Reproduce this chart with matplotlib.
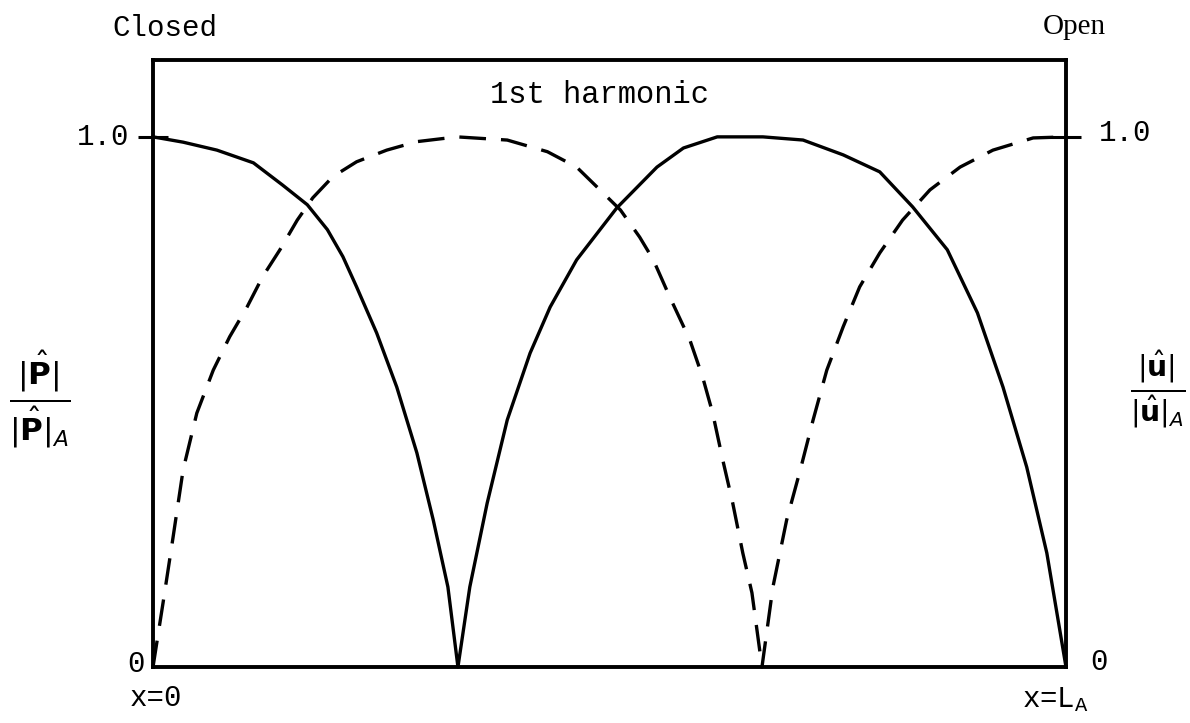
import matplotlib.pyplot as plt

# position along the tube, as a fraction of L_A
x_p = [0, 0.033, 0.070, 0.110, 0.142, 0.169, 0.191, 0.208, 0.223, 0.245,
       0.267, 0.289, 0.307, 0.323, 0.334, 0.347, 0.366, 0.388, 0.413, 0.435,
       0.464, 0.508, 0.552, 0.581, 0.618, 0.668, 0.712, 0.756, 0.796, 0.832,
       0.870, 0.903, 0.931, 0.957, 0.979, 1.0]
# pressure amplitude |p| / |p|_A
p_amp = [1.0, 0.99, 0.975, 0.951, 0.909, 0.872, 0.825, 0.774, 0.717, 0.630,
         0.528, 0.404, 0.277, 0.151, 0.0, 0.151, 0.309, 0.466, 0.592, 0.679,
         0.768, 0.866, 0.943, 0.979, 1.0, 1.0, 0.994, 0.966, 0.934, 0.868,
         0.787, 0.668, 0.528, 0.377, 0.215, 0.0]

x_u = [0, 0.011, 0.022, 0.033, 0.048, 0.066, 0.084, 0.103, 0.120, 0.139,
       0.158, 0.175, 0.197, 0.223, 0.256, 0.289, 0.333, 0.388, 0.432, 0.464,
       0.486, 0.512, 0.533, 0.548, 0.566, 0.588, 0.602, 0.613, 0.624, 0.635,
       0.646, 0.656, 0.667, 0.679, 0.694, 0.709, 0.723, 0.738, 0.756, 0.774,
       0.796, 0.821, 0.851, 0.884, 0.920, 0.964, 1.0]
# velocity amplitude |u| / |u|_A
u_amp = [0, 0.121, 0.245, 0.372, 0.479, 0.560, 0.623, 0.679, 0.736, 0.787,
         0.843, 0.885, 0.925, 0.953, 0.975, 0.991, 1.0, 0.994, 0.972, 0.943,
         0.906, 0.862, 0.811, 0.768, 0.698, 0.617, 0.547, 0.479, 0.391, 0.309,
         0.215, 0.140, 0.0, 0.151, 0.277, 0.372, 0.466, 0.560, 0.642, 0.717,
         0.781, 0.843, 0.900, 0.943, 0.975, 0.998, 1.0]

W, H = 1190, 723
mono = 'Liberation Mono'

fig = plt.figure(figsize=(W / 100, H / 100), dpi=100)
ax = fig.add_axes([153 / W, 1 - 667 / H, (1066 - 153) / W, (667 - 60) / H])

ax.plot(x_p, p_amp, color='black', lw=2.4, solid_joinstyle='round', clip_on=False)
ax.plot(x_u, u_amp, color='black', lw=2.4, dashes=(8, 4.5), clip_on=False)

ax.set_xlim(0, 1)
ax.set_ylim(0, 1.145)
for s in ax.spines.values():
    s.set_linewidth(2.8)

ax.set_xticks([])
ax.set_yticks([1.0])
ax.set_yticklabels([])
ax.tick_params(axis='y', direction='inout', length=22, width=2.2,
               left=True, right=True)

# tick labels and end labels
def ftext(px, py, s, **kw):
    kw.setdefault('family', mono)
    kw.setdefault('fontsize', 21)
    fig.text(px / W, 1 - py / H, s, **kw)

ftext(103, 137, '1.0', ha='center', va='center')
ftext(1125, 133, '1.0', ha='center', va='center')
ftext(136, 664, '0', ha='center', va='center')
ftext(1099, 662, '0', ha='center', va='center')
ftext(165, 28, 'Closed', ha='center', va='center')
ftext(1074, 27, 'Open', ha='center', va='center', family='Liberation Serif')
ftext(600, 95, '1st harmonic', ha='center', va='center', fontsize=22)
ftext(156, 698, 'x=0', ha='center', va='center')
ftext(1055, 700, r'x=L$_\mathregular{A}$', ha='center', va='center',
      family=['Liberation Mono', 'DejaVu Sans'])

# axis quantities
fig.text(40 / W, 1 - 400 / H, r'$\frac{|\hat{\mathbf{P}}|}{|\hat{\mathbf{P}}|_A}$',
         fontsize=32, ha='center', va='center')
fig.text(1158 / W, 1 - 390 / H, r'$\frac{|\hat{\mathbf{u}}|}{|\hat{\mathbf{u}}|_A}$',
         fontsize=29, ha='center', va='center')

fig.savefig('out.png', dpi=100)
